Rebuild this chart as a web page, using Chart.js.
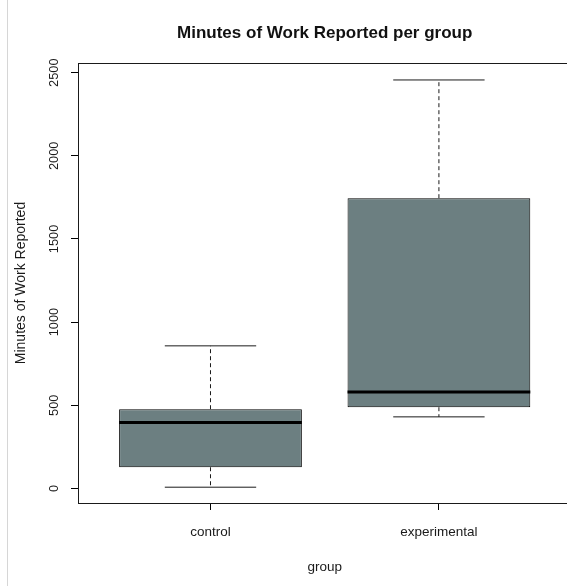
<!DOCTYPE html>
<html>
<head>
<meta charset="utf-8">
<script src="https://cdn.jsdelivr.net/npm/chart.js@4/dist/chart.umd.min.js"></script>
<style>
  body { margin: 0; overflow: hidden; background: #fff; }
  #wrap { position: relative; width: 580px; height: 586px; }
  #edge { position: absolute; left: 7px; top: 0; width: 1px; height: 586px; background: #d6d6d6; }
</style>
</head>
<body>
<div id="wrap">
  <canvas id="boxChart" width="580" height="586"></canvas>
  <div id="edge"></div>
</div>
<script>
const categories = ["control", "experimental"];
const whiskerLow = [7, 430];
const q1 = [127, 488];
const median = [396, 580];
const q3 = [476, 1745];
const whiskerHigh = [857, 2456];
const yTicks = [0, 500, 1000, 1500, 2000, 2500];

const FONT = "'Liberation Sans', Arial, sans-serif";
const INK = "#1a1a1a";

// whiskers, medians and the frame, drawn on top of the boxes
const boxExtras = {
  id: "boxExtras",
  afterDatasetsDraw(chart) {
    const ctx = chart.ctx;
    const x = chart.scales.x;
    const y = chart.scales.y;
    const unit = x.getPixelForValue(2) - x.getPixelForValue(1);
    ctx.save();
    categories.forEach((c, i) => {
      const cx = x.getPixelForValue(i + 1);
      const capHalf = unit * 0.2;
      const boxHalf = unit * 0.4;
      // dashed whiskers
      ctx.strokeStyle = INK;
      ctx.lineWidth = 1;
      ctx.setLineDash([4, 3]);
      ctx.beginPath();
      ctx.moveTo(cx, y.getPixelForValue(q3[i]));
      ctx.lineTo(cx, y.getPixelForValue(whiskerHigh[i]));
      ctx.moveTo(cx, y.getPixelForValue(q1[i]));
      ctx.lineTo(cx, y.getPixelForValue(whiskerLow[i]));
      ctx.stroke();
      // caps
      ctx.setLineDash([]);
      ctx.beginPath();
      ctx.moveTo(cx - capHalf, y.getPixelForValue(whiskerHigh[i]));
      ctx.lineTo(cx + capHalf, y.getPixelForValue(whiskerHigh[i]));
      ctx.moveTo(cx - capHalf, y.getPixelForValue(whiskerLow[i]));
      ctx.lineTo(cx + capHalf, y.getPixelForValue(whiskerLow[i]));
      ctx.stroke();
      // median
      ctx.lineWidth = 3;
      ctx.strokeStyle = "#000";
      ctx.beginPath();
      ctx.moveTo(cx - boxHalf, y.getPixelForValue(median[i]));
      ctx.lineTo(cx + boxHalf, y.getPixelForValue(median[i]));
      ctx.stroke();
    });
    // plot frame
    const a = chart.chartArea;
    ctx.lineWidth = 1;
    ctx.strokeStyle = INK;
    ctx.strokeRect(Math.round(a.left) + 0.5, Math.round(a.top) + 0.5,
      Math.round(a.right - a.left), Math.round(a.bottom - a.top));
    ctx.restore();
  }
};

new Chart(document.getElementById("boxChart").getContext("2d"), {
  type: "bar",
  data: {
    datasets: [{
      data: categories.map((c, i) => ({ x: i + 1, y: [q1[i], q3[i]] })),
      backgroundColor: "#6c7f81",
      borderColor: "#000",
      borderWidth: 1,
      borderSkipped: false,
      barPercentage: 0.8,
      categoryPercentage: 1
    }]
  },
  options: {
    responsive: false,
    devicePixelRatio: 1,
    animation: false,
    layout: { padding: { left: 0, right: 8.6, top: 0, bottom: 0 } },
    plugins: {
      legend: { display: false },
      tooltip: { enabled: false },
      title: {
        display: true,
        text: "Minutes of Work Reported per group",
        fullSize: false,
        color: "#111",
        font: { family: FONT, size: 17, weight: "bold", lineHeight: 1.2 },
        padding: { top: 22.8, bottom: 19.8 }
      }
    },
    scales: {
      x: {
        type: "linear",
        min: 0.42,
        max: 2.58,
        offset: false,
        afterBuildTicks: s => { s.ticks = categories.map((c, i) => ({ value: i + 1 })); },
        afterFit: s => { s.height = 83; },
        border: { display: false },
        grid: { display: true, offset: false, drawOnChartArea: false, drawTicks: true, tickLength: 7, color: "#000" },
        ticks: {
          autoSkip: false,
          maxRotation: 0,
          padding: 14,
          color: INK,
          font: { family: FONT, size: 13.5 },
          callback: v => categories[v - 1]
        },
        title: {
          display: true,
          text: "group",
          color: INK,
          font: { family: FONT, size: 13.5, lineHeight: 1.2 },
          padding: { top: 0, bottom: 11 }
        }
      },
      y: {
        type: "linear",
        min: -88,
        max: 2558,
        afterBuildTicks: s => { s.ticks = yTicks.map(v => ({ value: v })); },
        afterFit: s => { s.width = 78; },
        border: { display: false },
        grid: { display: true, drawOnChartArea: false, drawTicks: true, tickLength: 7, color: "#000" },
        ticks: {
          autoSkip: false,
          minRotation: 90,
          maxRotation: 90,
          crossAlign: "center",
          padding: 2.3,
          color: INK,
          font: { family: FONT, size: 12.8 },
          callback: v => String(v)
        },
        title: {
          display: true,
          text: "Minutes of Work Reported",
          color: INK,
          font: { family: FONT, size: 14, lineHeight: 1.2 },
          padding: { top: 12.6, bottom: 0 }
        }
      }
    }
  },
  plugins: [boxExtras]
});
</script>
</body>
</html>
